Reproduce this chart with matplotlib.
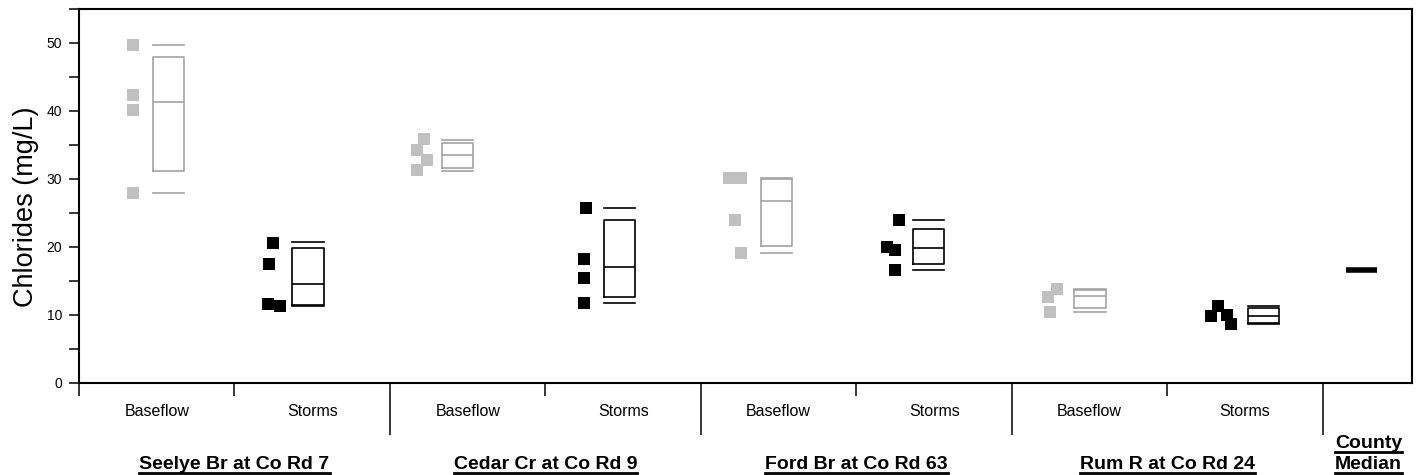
import matplotlib
matplotlib.use("Agg")
import matplotlib.pyplot as plt
from matplotlib.lines import Line2D
from matplotlib.ticker import MultipleLocator, NullFormatter
from matplotlib.transforms import blended_transform_factory

plt.rcParams['font.family'] = ['Liberation Sans', 'DejaVu Sans']

# ---------------- data ----------------
sites = ["Seelye Br at Co Rd 7", "Cedar Cr at Co Rd 9", "Ford Br at Co Rd 63", "Rum R at Co Rd 24"]
conditions = ["Baseflow", "Storms"]
median_label = ["County", "Median"]

# individual samples, chlorides (mg/L)
seelye_baseflow = [49.7, 42.4, 40.1, 28.0]
seelye_storms = [20.6, 17.5, 11.6, 11.3]
cedar_baseflow = [35.9, 34.3, 32.8, 31.3]
cedar_storms = [25.7, 18.3, 15.4, 11.7]
ford_baseflow = [30.1, 30.1, 23.9, 19.1]
ford_storms = [23.9, 20.0, 19.5, 16.6]
rum_baseflow = [13.8, 12.7, 10.4]
rum_storms = [11.3, 9.8, 10.0, 8.7]

# box summaries: min, q1, median, q3, max
seelye_baseflow_box = [28.0, 31.2, 41.3, 47.9, 49.7]
seelye_storms_box = [11.3, 11.4, 14.5, 19.8, 20.7]
cedar_baseflow_box = [31.2, 31.6, 33.5, 35.3, 35.8]
cedar_storms_box = [11.8, 12.7, 17.0, 23.9, 25.7]
ford_baseflow_box = [19.1, 20.2, 26.8, 30.0, 30.1]
ford_storms_box = [16.6, 17.5, 19.8, 22.7, 23.9]
rum_baseflow_box = [10.4, 11.1, 12.8, 13.7, 13.8]
rum_storms_box = [8.7, 8.8, 9.9, 11.1, 11.3]

county_median = 16.6

# ---------------- layout ----------------
samples = [seelye_baseflow, seelye_storms, cedar_baseflow, cedar_storms,
           ford_baseflow, ford_storms, rum_baseflow, rum_storms]
boxes = [seelye_baseflow_box, seelye_storms_box, cedar_baseflow_box, cedar_storms_box,
         ford_baseflow_box, ford_storms_box, rum_baseflow_box, rum_storms_box]
box_pos = [0.576, 1.473, 2.437, 3.479, 4.486, 5.462, 6.502, 7.621]
pt_pos = [0.347, 1.244, 2.200, 3.251, 4.230, 5.243, 6.257, 7.349]
jitter = [[0, 0, 0, 0],
          [0.001, -0.021, -0.029, 0.048],
          [0.020, -0.028, 0.036, -0.028],
          [0.011, 0.0, -0.006, -0.006],
          [-0.048, 0.029, -0.010, 0.029],
          [0.032, -0.045, 0.006, 0.006],
          [0.033, -0.024, -0.009],
          [-0.022, -0.069, 0.032, 0.058]]
light_pt = "#c0c0c0"
light_box = "#a3a3a3"
dark = "#000000"

W, H = 1420, 475
fig = plt.figure(figsize=(W / 100, H / 100), dpi=100)
ax = fig.add_axes([79 / W, (H - 383) / H, (1411.5 - 79) / W, (383 - 9) / H])
ax.set_xlim(0, 8.57)
ax.set_ylim(0, 55)

for i, (vals, jit) in enumerate(zip(samples, jitter)):
    col = light_pt if i % 2 == 0 else dark
    xs = [pt_pos[i] + j for j in jit]
    ax.plot(xs, vals, linestyle='none', marker='s', markersize=8,
            markerfacecolor=col, markeredgewidth=0, zorder=3)

for parity, col in ((0, light_box), (1, dark)):
    stats = []
    pos = []
    for i in range(parity, len(boxes), 2):
        mn, q1, med, q3, mx = boxes[i]
        stats.append(dict(med=med, q1=q1, q3=q3, whislo=mn, whishi=mx, fliers=[]))
        pos.append(box_pos[i])
    lp = dict(color=col, linewidth=1.2)
    ax.bxp(stats, positions=pos, widths=0.2, capwidths=0.2, showfliers=False,
           boxprops=lp, medianprops=lp, capprops=lp,
           whiskerprops=dict(linestyle='none'), manage_ticks=False)

# county median
ax.hlines(county_median, 8.146, 8.345, colors=dark, linewidth=4)

# axes styling
for s in ax.spines.values():
    s.set_linewidth(1.5)
ax.yaxis.set_major_locator(MultipleLocator(10))
ax.yaxis.set_minor_locator(MultipleLocator(5))
ax.tick_params(axis='y', which='both', direction='out', length=7, width=1.1,
               labelsize=10, pad=5, right=False)
ax.set_xticks([0, 1, 3, 5, 7])
ax.set_xticks([2, 4, 6, 8], minor=True)
ax.xaxis.set_major_formatter(NullFormatter())
ax.tick_params(axis='x', which='major', direction='out', length=9.5, width=1.1, top=False)
ax.tick_params(axis='x', which='minor', direction='out', length=37.5, width=1.1, top=False)

fig.text(26 / W, 1 - 207 / H, "Chlorides (mg/L)", rotation=90, ha='center', va='center',
         fontsize=19.5)

trans = blended_transform_factory(ax.transData, fig.transFigure)
for g in range(len(sites)):
    for c, cond in enumerate(conditions):
        ax.text(2 * g + c + 0.5, 1 - 416.5 / H, cond, transform=trans, ha='center',
                va='baseline', fontsize=11.5)

titles = []
for g, site in enumerate(sites):
    titles.append(ax.text(2 * g + 1, 1 - 469 / H, site, transform=trans, ha='center',
                          va='baseline', fontsize=14, fontweight='bold'))
titles.append(ax.text(8.077, 1 - 448 / H, median_label[0], transform=trans, ha='left',
                      va='baseline', fontsize=14, fontweight='bold'))
titles.append(ax.text(8.077, 1 - 469 / H, median_label[1], transform=trans, ha='left',
                      va='baseline', fontsize=14, fontweight='bold'))

fig.canvas.draw()
r = fig.canvas.get_renderer()
for t in titles:
    bb = t.get_window_extent(r)
    xy = t.get_transform().transform(t.get_position())
    yb = xy[1] - 4
    fig.add_artist(Line2D([bb.x0 / W, bb.x1 / W], [yb / H, yb / H],
                          transform=fig.transFigure, color='black', linewidth=2))

fig.savefig("out.png", dpi=100)
